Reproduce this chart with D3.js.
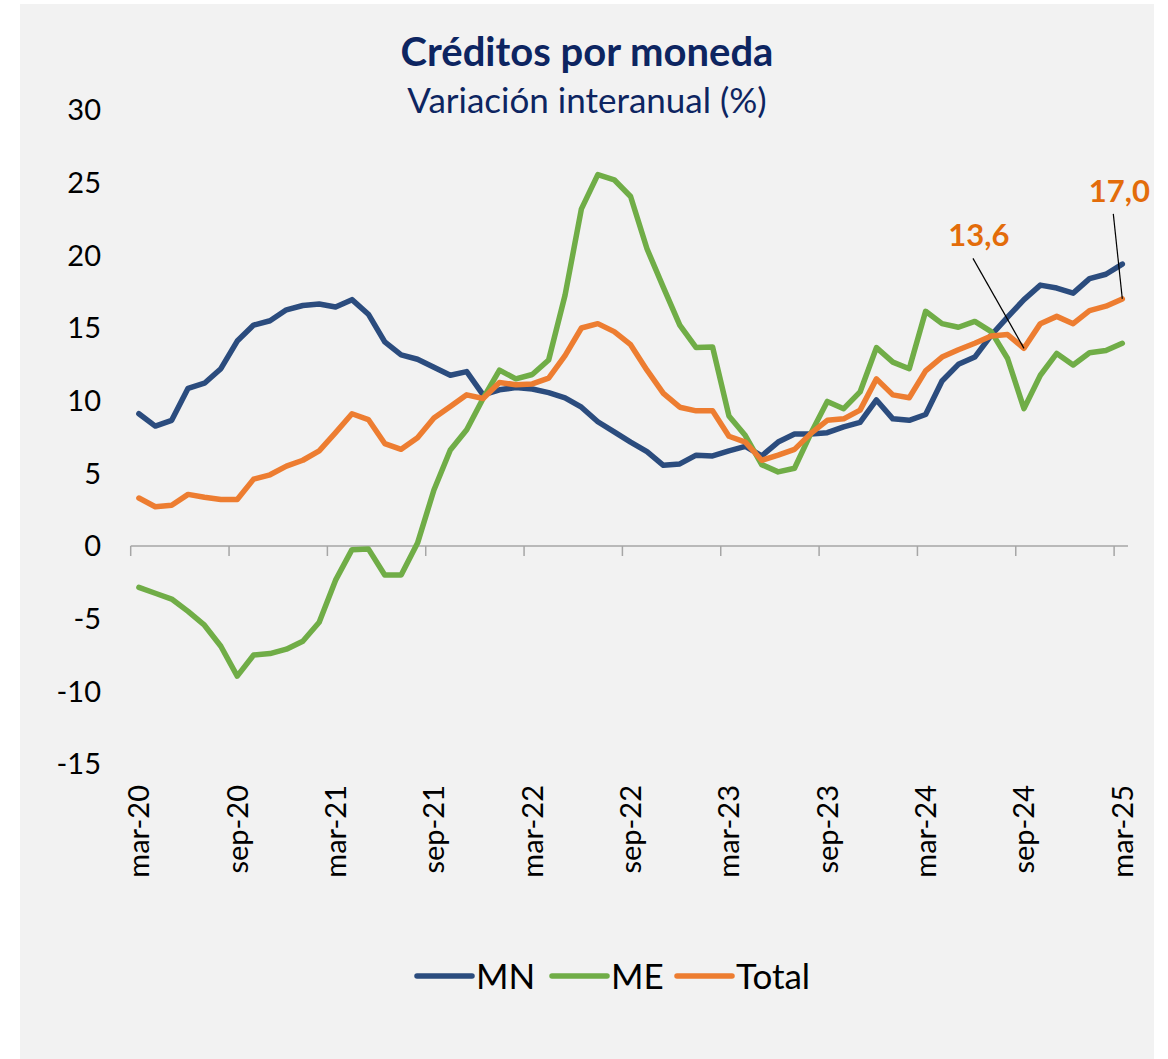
<!DOCTYPE html>
<html>
<head>
<meta charset="utf-8">
<script src="https://cdn.jsdelivr.net/npm/d3@7"></script>
<style>
  body { margin: 0; background: #fff; }
  svg text { font-family: Lato, "Open Sans", sans-serif; }
</style>
</head>
<body>
<div id="chart"></div>
<script>
// months mar-20 .. mar-25
var monthNames = ["ene","feb","mar","abr","may","jun","jul","ago","sep","oct","nov","dic"];
var categories = [];
for (var k = 0; k < 61; k++) {
    var m = (2 + k) % 12, yr = 20 + Math.floor((2 + k) / 12);
    categories.push(monthNames[m] + "-" + yr);
}
var tickLabels = ["mar-20","sep-20","mar-21","sep-21","mar-22","sep-22","mar-23","sep-23","mar-24","sep-24","mar-25"];
var yTicks = [30, 25, 20, 15, 10, 5, 0, -5, -10, -15];

var mn = [9.1, 8.25, 8.65, 10.85, 11.2, 12.2, 14.1, 15.2, 15.5, 16.25, 16.55, 16.65,
    16.45, 16.95, 15.95, 14.05, 13.15, 12.85, 12.3, 11.75, 12.0, 10.4, 10.75, 10.9,
    10.8, 10.55, 10.2, 9.55, 8.55, 7.85, 7.15, 6.5, 5.55, 5.65, 6.25, 6.2,
    6.55, 6.85, 6.2, 7.15, 7.7, 7.7, 7.8, 8.2, 8.5, 10.05, 8.75, 8.65,
    9.05, 11.35, 12.5, 13.0, 14.5, 15.75, 16.95, 17.95, 17.75, 17.4, 18.4, 18.7, 19.4];
var me = [-2.85, -3.25, -3.65, -4.5, -5.45, -6.9, -8.95, -7.5, -7.4, -7.1, -6.55, -5.25,
    -2.35, -0.25, -0.2, -2.0, -2.0, 0.2, 3.85, 6.6, 8.0, 10.15, 12.1, 11.5,
    11.8, 12.8, 17.25, 23.2, 25.55, 25.2, 24.05, 20.45, 17.8, 15.2, 13.65, 13.7,
    8.95, 7.6, 5.6, 5.1, 5.35, 7.75, 9.95, 9.45, 10.6, 13.65, 12.65, 12.2,
    16.15, 15.3, 15.05, 15.45, 14.75, 12.9, 9.45, 11.75, 13.25, 12.45, 13.3, 13.45, 13.95];
var total = [3.3, 2.7, 2.8, 3.55, 3.35, 3.2, 3.2, 4.6, 4.9, 5.5, 5.9, 6.55,
    7.8, 9.1, 8.7, 7.05, 6.65, 7.45, 8.8, 9.6, 10.4, 10.15, 11.25, 11.1,
    11.15, 11.55, 13.1, 15.0, 15.3, 14.75, 13.85, 12.1, 10.5, 9.55, 9.3, 9.3,
    7.55, 7.15, 5.9, 6.25, 6.65, 7.75, 8.65, 8.75, 9.35, 11.5, 10.4, 10.2,
    12.05, 13.0, 13.5, 13.95, 14.45, 14.55, 13.6, 15.3, 15.8, 15.3, 16.2, 16.5, 17.0];

var seriesNames = ["MN", "ME", "Total"];
var seriesColors = ["#2b4c7e", "#70ad47", "#ed7d31"];
var seriesValues = [mn, me, total];

// labelled points of the Total series
var notes = [{cat: "sep-24", text: "13,6", dx: -45, dy: -102},
             {cat: "mar-25", text: "17,0", dx: -3, dy: -97}];

var width = 1168, height = 1059;
var svg = d3.select("#chart").append("svg")
    .attr("width", width)
    .attr("height", height);

svg.append("rect")
    .attr("x", 20).attr("y", 4)
    .attr("width", 1134).attr("height", 1055)
    .attr("fill", "#f2f2f2");

var x = d3.scaleBand().domain(categories).range([130.7, 1130.5]).paddingInner(0).paddingOuter(0);
var y = d3.scaleLinear().domain([-15, 30]).range([764, 110]);
var cx = function(c) { return x(c) + x.bandwidth() / 2; };

// title
svg.append("text")
    .attr("x", 587).attr("y", 66)
    .attr("text-anchor", "middle")
    .attr("font-size", 40).attr("font-weight", "bold")
    .attr("fill", "#0d2561")
    .text("Créditos por moneda");
svg.append("text")
    .attr("x", 587).attr("y", 113)
    .attr("text-anchor", "middle")
    .attr("font-size", 35)
    .attr("fill", "#0d2561")
    .text("Variación interanual (%)");

// y axis labels
svg.append("g").selectAll("text").data(yTicks).enter().append("text")
    .attr("x", 101)
    .attr("y", function(d) { return y(d); })
    .attr("dy", "0.36em")
    .attr("text-anchor", "end")
    .attr("font-size", 29)
    .attr("fill", "#000")
    .text(function(d) { return d; });

// x axis at zero
var xAxis = svg.append("g").attr("transform", "translate(0," + y(0) + ")");
xAxis.append("line")
    .attr("x1", x.range()[0]).attr("x2", 1128)
    .attr("stroke", "#a6a6a6").attr("stroke-width", 1.5);
xAxis.selectAll(".tk").data(tickLabels).enter().append("line")
    .attr("class", "tk")
    .attr("x1", function(d) { return x(d); })
    .attr("x2", function(d) { return x(d); })
    .attr("y1", 0).attr("y2", 10)
    .attr("stroke", "#a6a6a6").attr("stroke-width", 1.5);

// x labels sit below the plot area
svg.append("g").selectAll("text").data(tickLabels).enter().append("text")
    .attr("transform", function(d) { return "translate(" + cx(d) + ",785) rotate(-90)"; })
    .attr("text-anchor", "end")
    .attr("dy", "0.36em")
    .attr("font-family", "'DejaVu Sans', sans-serif")
    .attr("font-size", 29)
    .attr("fill", "#000")
    .text(function(d) { return d; });

// lines
var line = d3.line()
    .x(function(d, i) { return cx(categories[i]); })
    .y(function(d) { return y(d); });

svg.append("g").selectAll("path").data(seriesValues).enter().append("path")
    .attr("d", line)
    .attr("fill", "none")
    .attr("stroke", function(d, i) { return seriesColors[i]; })
    .attr("stroke-width", 5.5)
    .attr("stroke-linejoin", "round")
    .attr("stroke-linecap", "round");

// annotations
notes.forEach(function(n) {
    var px = cx(n.cat), py = y(total[categories.indexOf(n.cat)]);
    svg.append("line")
        .attr("x1", px + n.dx + (n.dx < 0 ? -6 : -7)).attr("y1", py + n.dy + 12)
        .attr("x2", px).attr("y2", py)
        .attr("stroke", "#000").attr("stroke-width", 1.2);
    svg.append("text")
        .attr("x", px + n.dx).attr("y", py + n.dy)
        .attr("text-anchor", "middle")
        .attr("font-size", 31).attr("font-weight", "bold")
        .attr("fill", "#e36c0a")
        .text(n.text);
});

// legend
var legendX = [417, 552, 677];
var lg = svg.append("g").selectAll("g").data(seriesNames).enter().append("g")
    .attr("transform", function(d, i) { return "translate(" + legendX[i] + ",976)"; });
lg.append("line")
    .attr("x1", 0).attr("x2", 55)
    .attr("stroke", function(d, i) { return seriesColors[i]; })
    .attr("stroke-width", 5.5)
    .attr("stroke-linecap", "round");
lg.append("text")
    .attr("x", 59).attr("dy", "0.36em")
    .attr("font-size", 35)
    .attr("fill", "#000")
    .text(function(d) { return d; });
</script>
</body>
</html>
